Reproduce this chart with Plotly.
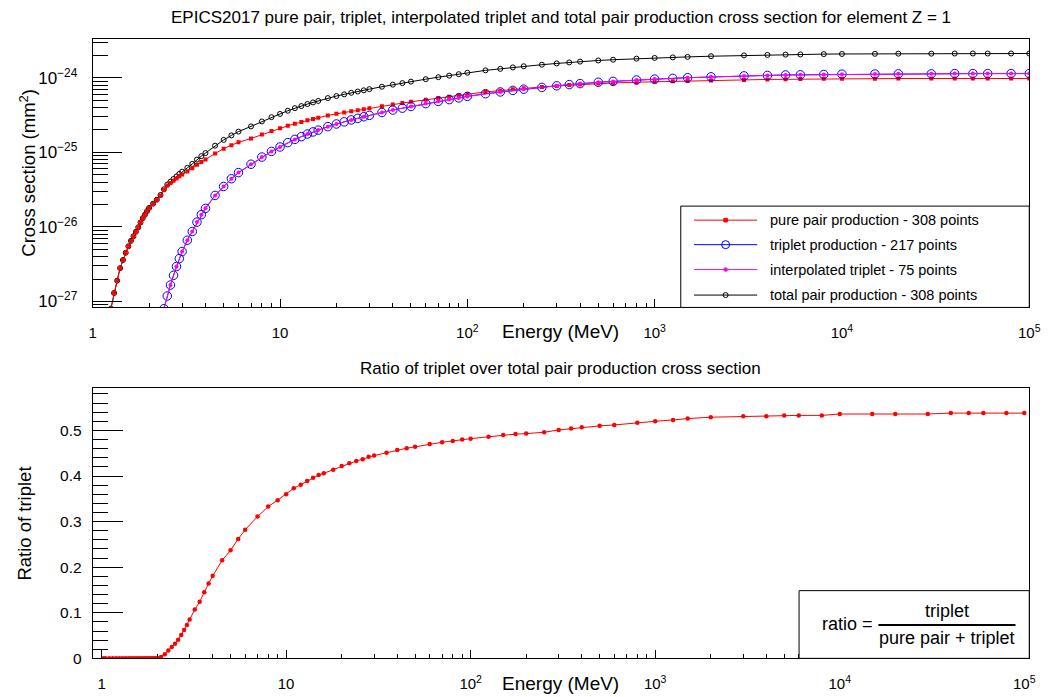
import plotly.graph_objects as go

# ---------------- data (cross sections in units of 1e-24 mm^2) ----------------
XS_UNIT = 1e-24

E_GRID = [1.1, 1.2, 1.25, 1.3, 1.35, 1.4, 1.45, 1.5, 1.55, 1.6, 1.65, 1.7, 1.75, 1.8,
          1.85, 1.9, 1.95, 2.0,
          2.1, 2.2, 2.3, 2.4, 2.5, 2.6, 2.7, 2.8, 2.9, 3.0, 3.2, 3.4, 3.6, 3.8, 4.0,
          4.5, 5.0, 5.5, 6.0, 7.0, 8.0, 9.0, 10, 11, 12, 13, 14, 15, 16, 18, 20, 22,
          24, 26, 28, 30, 35, 40, 45, 50, 60, 70, 80, 90, 100, 125, 150, 175, 200,
          250, 300, 350, 400, 500, 600, 800, 1000, 1250, 1500, 2000, 3000, 4000,
          5000, 6000, 8000, 1e4, 1.5e4, 2e4, 3e4, 4e4, 5e4, 6e4, 8e4, 1e5]

PAIR_XS = [0.00005, 0.0004, 0.0008, 0.0013, 0.0019, 0.0028, 0.0036, 0.0045, 0.0055,
           0.0065, 0.0075, 0.0086, 0.0099, 0.0115, 0.0131, 0.0146, 0.0163, 0.0180,
           0.02044, 0.02299, 0.02634, 0.0312, 0.03582, 0.03884, 0.04176, 0.04456,
           0.04774, 0.05033, 0.05537, 0.06132, 0.0684, 0.0744, 0.08026, 0.09656,
           0.1122, 0.1247, 0.1364, 0.1536, 0.1734, 0.1939, 0.2099, 0.2270, 0.2426,
           0.2554, 0.2688, 0.2799, 0.2911, 0.3135, 0.3295, 0.3432, 0.3572, 0.3688,
           0.3794, 0.3913, 0.4172, 0.4398, 0.4582, 0.4770, 0.5088, 0.5365, 0.5596,
           0.5824, 0.6061, 0.6476, 0.6732, 0.7010, 0.7250, 0.7560, 0.7784, 0.7985,
           0.8135, 0.8379, 0.8540, 0.8742, 0.8880, 0.8968, 0.9053, 0.9185, 0.9380,
           0.9521, 0.9574, 0.9620, 0.9714, 0.9698, 0.9744, 0.9790, 0.9790, 0.9794,
           0.9794, 0.9794, 0.9794, 0.9794]

TOTAL_XS = [0.00005, 0.0004, 0.0008, 0.0013, 0.0019, 0.0028, 0.0036, 0.0045, 0.0055,
            0.0065, 0.0075, 0.0086, 0.0099, 0.0115, 0.0131, 0.0146, 0.0163, 0.0180,
            0.0205, 0.0232, 0.0268, 0.0320, 0.0370, 0.0405, 0.0440, 0.0475, 0.0515,
            0.0550, 0.0620, 0.0700, 0.0800, 0.0890, 0.0980, 0.1230, 0.1470, 0.1690,
            0.1900, 0.2230, 0.2600, 0.2970, 0.328, 0.362, 0.392, 0.418, 0.445, 0.468,
            0.490, 0.535, 0.570, 0.600, 0.630, 0.655, 0.680, 0.705, 0.760, 0.810,
            0.850, 0.890, 0.960, 1.020, 1.070, 1.120, 1.170, 1.260, 1.320, 1.380,
            1.430, 1.500, 1.560, 1.610, 1.650, 1.710, 1.750, 1.810, 1.850, 1.880,
            1.910, 1.950, 2.000, 2.030, 2.050, 2.060, 2.080, 2.090, 2.100, 2.110,
            2.110, 2.120, 2.120, 2.120, 2.120, 2.120]

E_TRIPLET = [2.1, 2.2, 2.3, 2.4, 2.5, 2.6, 2.7, 2.8, 2.9, 3.0, 3.2, 3.4, 3.6, 3.8, 4.0,
             4.5, 5.0, 5.5, 6.0, 7.0, 8.0, 9.0, 10, 11, 12, 13, 14, 15, 16, 18, 20, 22,
             24, 26, 28, 30, 35, 40, 45, 50, 60, 70, 80, 90, 100, 125, 150, 175, 200,
             250, 300, 350, 400, 500, 600, 800, 1000, 1250, 1500, 2000, 3000, 4000,
             5000, 6000, 8000, 1e4, 1.5e4, 2e4, 3e4, 4e4, 5e4, 6e4, 8e4, 1e5]

TRIPLET_XS = [0.0000615, 0.000209, 0.000456, 0.0008, 0.001184, 0.00166, 0.002244,
              0.002945, 0.00376, 0.004675, 0.006634, 0.00868, 0.0116, 0.0146, 0.01774,
              0.02645, 0.03484, 0.04428, 0.05358, 0.06935, 0.08658, 0.1031, 0.1181,
              0.1350, 0.1494, 0.1626, 0.1762, 0.1881, 0.1989, 0.2215, 0.2405, 0.2568,
              0.2728, 0.2862, 0.3006, 0.3137, 0.3428, 0.3702, 0.3919, 0.4130, 0.4512,
              0.4835, 0.5104, 0.5376, 0.5639, 0.6124, 0.6468, 0.6790, 0.7050, 0.7440,
              0.7816, 0.8114, 0.8366, 0.8721, 0.8960, 0.9358, 0.9620, 0.9832, 1.0047,
              1.0316, 1.0620, 1.0779, 1.0927, 1.0980, 1.1086, 1.1202, 1.1256, 1.1310,
              1.1310, 1.1406, 1.1406, 1.1406, 1.1406, 1.1406]

E_INTERP = [2.4, 2.6, 2.8, 3.0, 3.2, 3.4, 3.6, 3.8, 4.0, 4.5, 5.0, 5.5, 6.0, 7, 8, 9,
            10, 12, 14, 16, 18, 20, 24, 28, 35, 40, 50, 60, 70, 80, 90, 100, 150, 200,
            300, 400, 500, 600, 800, 1000, 1500, 2000, 3000, 4000, 5000, 6000, 8000,
            1e4, 1.5e4, 2e4, 3e4, 4e4, 5e4, 6e4, 8e4, 1e5]

INTERP_XS = [0.0008, 0.00166, 0.002945, 0.004675, 0.006634, 0.00868, 0.0116, 0.0146,
             0.01774, 0.02645, 0.03484, 0.04428, 0.05358, 0.06935, 0.08658, 0.1031,
             0.1181, 0.1494, 0.1762, 0.1989, 0.2215, 0.2405, 0.2728, 0.3006, 0.3428,
             0.3702, 0.4130, 0.4512, 0.4835, 0.5104, 0.5376, 0.5639, 0.6468, 0.7050,
             0.7816, 0.8366, 0.8721, 0.8960, 0.9358, 0.9620, 1.0047, 1.0316, 1.0620,
             1.0779, 1.0927, 1.0980, 1.1086, 1.1202, 1.1256, 1.1310, 1.1310, 1.1406,
             1.1406, 1.1406, 1.1406, 1.1406]

E_RATIO = [1.022, 1.05, 1.1, 1.15, 1.2, 1.25, 1.3, 1.35, 1.4, 1.45, 1.5, 1.55, 1.6,
           1.65, 1.7, 1.75, 1.8, 1.85, 1.9, 1.95, 2.0, 2.044,
           2.1, 2.2, 2.3, 2.4, 2.5, 2.6, 2.7, 2.8, 2.9, 3.0, 3.2, 3.4, 3.6, 3.8, 4.0,
           4.5, 5.0, 5.5, 6.0, 7.0, 8.0, 9.0, 10, 11, 12, 13, 14, 15, 16, 18, 20, 22,
           24, 26, 28, 30, 35, 40, 45, 50, 60, 70, 80, 90, 100, 125, 150, 175, 200,
           250, 300, 350, 400, 500, 600, 800, 1000, 1250, 1500, 2000, 3000, 4000,
           5000, 6000, 8000, 1e4, 1.5e4, 2e4, 3e4, 4e4, 5e4, 6e4, 8e4, 1e5]

RATIO = [0, 0, 0, 0, 0, 0, 0, 0, 0, 0, 0, 0, 0, 0, 0, 0, 0, 0, 0, 0, 0, 0,
         0.003, 0.009, 0.017, 0.025, 0.032, 0.041, 0.051, 0.062, 0.073, 0.085,
         0.107, 0.124, 0.145, 0.164, 0.181, 0.215, 0.237, 0.262, 0.282, 0.311,
         0.333, 0.347, 0.360, 0.373, 0.381, 0.389, 0.396, 0.402, 0.406, 0.414,
         0.422, 0.428, 0.433, 0.437, 0.442, 0.445, 0.451, 0.457, 0.461, 0.464,
         0.470, 0.474, 0.477, 0.480, 0.482, 0.486, 0.490, 0.492, 0.493, 0.496,
         0.501, 0.504, 0.507, 0.510, 0.512, 0.517, 0.520, 0.523, 0.526, 0.529,
         0.531, 0.531, 0.533, 0.533, 0.533, 0.536, 0.536, 0.536, 0.536, 0.538,
         0.538, 0.538, 0.538, 0.538]

assert len(E_GRID) == len(PAIR_XS) == len(TOTAL_XS)
assert len(E_TRIPLET) == len(TRIPLET_XS)
assert len(E_INTERP) == len(INTERP_XS)
assert len(E_RATIO) == len(RATIO)

X_TICKS = [1, 10, 100, 1000, 10000, 100000]
X_TICKTEXT = ["1", "10", "10<sup>2</sup>", "10<sup>3</sup>", "10<sup>4</sup>", "10<sup>5</sup>"]
Y_TICKS = [1e-27, 1e-26, 1e-25, 1e-24]
Y_TICKTEXT = ["10<sup>\u221227</sup>", "10<sup>\u221226</sup>", "10<sup>\u221225</sup>",
              "10<sup>\u221224</sup>"]
R_TICKS = [0, 0.1, 0.2, 0.3, 0.4, 0.5]
R_TICKTEXT = ["0", "0.1", "0.2", "0.3", "0.4", "0.5"]

TITLE_TOP = ("EPICS2017 pure pair, triplet, interpolated triplet and total pair "
             "production cross section for element Z = 1")
TITLE_BOTTOM = "Ratio of triplet over total pair production cross section"
LEGEND_LABELS = ["pure pair production - 308 points", "triplet production - 217 points",
                 "interpolated triplet - 75 points", "total pair production - 308 points"]

# ---------------- layout helpers ----------------
W, H = 1058, 697
FONT = "Liberation Sans, Arial, Helvetica, sans-serif"


def px(x):
    return x / W


def py(y):
    return 1 - y / H


def scaled(vals):
    return [v * XS_UNIT for v in vals]


fig = go.Figure()

fig.add_trace(go.Scatter(
    x=E_GRID, y=scaled(TOTAL_XS), mode="lines+markers", showlegend=False,
    line=dict(color="black", width=1),
    marker=dict(symbol="circle-open", size=5, color="black", line=dict(width=1)),
    xaxis="x", yaxis="y"))
fig.add_trace(go.Scatter(
    x=E_GRID, y=scaled(PAIR_XS), mode="lines+markers", showlegend=False,
    line=dict(color="#ff0000", width=1),
    marker=dict(symbol="square", size=4, color="#ff0000"),
    xaxis="x", yaxis="y"))
fig.add_trace(go.Scatter(
    x=E_TRIPLET, y=scaled(TRIPLET_XS), mode="lines+markers", showlegend=False,
    line=dict(color="#0000ff", width=1),
    marker=dict(symbol="circle-open", size=8.5, color="#0000ff", line=dict(width=1)),
    xaxis="x", yaxis="y"))
fig.add_trace(go.Scatter(
    x=E_INTERP, y=scaled(INTERP_XS), mode="lines+markers", showlegend=False,
    line=dict(color="#ff00ff", width=1),
    marker=dict(symbol="circle", size=4, color="#ff00ff"),
    xaxis="x", yaxis="y"))
fig.add_trace(go.Scatter(
    x=E_RATIO, y=RATIO, mode="lines+markers", showlegend=False,
    line=dict(color="#ff0000", width=1),
    marker=dict(symbol="circle", size=4.5, color="#ff0000"),
    xaxis="x2", yaxis="y2"))

minor_x = [m * 10 ** n for n in range(-1, 5) for m in range(2, 10)]
minor_y = [m * 10.0 ** n for n in range(-28, -23) for m in range(2, 10)]
minor_r = [k / 50 for k in range(0, 30) if k % 5 != 0]

common_axis = dict(showline=True, linecolor="black", linewidth=1, mirror=True,
                   showgrid=False, zeroline=False, ticks="inside", tickcolor="black",
                   tickwidth=1)

xa = dict(common_axis, type="log", tickmode="array", tickvals=X_TICKS, ticktext=X_TICKTEXT,
          ticklen=8, ticklabelstandoff=12,
          tickfont=dict(family=FONT, size=15, color="black"),
          minor=dict(tickmode="array", tickvals=minor_x, ticks="inside", ticklen=4,
                     tickcolor="black", tickwidth=1, showgrid=False),
          domain=[px(90), px(1040)])

fig.update_layout(
    width=W, height=H, autosize=False,
    margin=dict(l=0, r=0, t=0, b=0),
    paper_bgcolor="white", plot_bgcolor="white",
    xaxis=dict(xa, anchor="y", range=[0, 5]),
    yaxis=dict(common_axis, type="log", anchor="x", range=[-27.08, -23.473],
               tickmode="array", tickvals=Y_TICKS, ticktext=Y_TICKTEXT,
               ticklen=29, ticklabelstandoff=11,
               tickfont=dict(family=FONT, size=17, color="black"),
               minor=dict(tickmode="array", tickvals=minor_y, ticks="inside", ticklen=15,
                          tickcolor="black", tickwidth=1, showgrid=False),
               domain=[py(311), py(39)]),
    xaxis2=dict(xa, anchor="y2", range=[-0.048, 5.027]),
    yaxis2=dict(common_axis, anchor="x2", range=[0, 0.592],
                tickmode="array", tickvals=R_TICKS, ticktext=R_TICKTEXT,
                ticklen=30, ticklabelstandoff=7,
                tickfont=dict(family=FONT, size=15.5, color="black"),
                minor=dict(tickmode="array", tickvals=minor_r, ticks="inside", ticklen=15,
                           tickcolor="black", tickwidth=1, showgrid=False),
                domain=[py(666), py(393)]),
)

annotations = []
shapes = []


def text(x, y, s, size, xanchor="center", angle=0):
    annotations.append(dict(x=px(x), y=py(y), xref="paper", yref="paper", text=s,
                            showarrow=False, xanchor=xanchor, yanchor="middle",
                            textangle=angle, borderpad=0,
                            font=dict(family=FONT, size=size, color="black")))


# titles and axis titles
text(565, 18, TITLE_TOP, 17)
text(565, 373, TITLE_BOTTOM, 17)
text(564, 335, "Energy (MeV)", 19)
text(564, 691, "Energy (MeV)", 19)
text(24, 175, "Cross section (mm<sup>2</sup>)", 18.5, angle=-90)
text(21, 530, "Ratio of triplet", 18.5, angle=-90)

# legend box
shapes.append(dict(type="rect", xref="paper", yref="paper", x0=px(686.5), x1=px(1040),
                   y0=py(311), y1=py(208.5), line=dict(color="black", width=1),
                   fillcolor="white", layer="above"))
legend_rows = [222.7, 247.5, 272.7, 298.5]
legend_colors = ["#ff0000", "#0000ff", "#ff00ff", "black"]
for row, col, lab in zip(legend_rows, legend_colors, LEGEND_LABELS):
    shapes.append(dict(type="line", xref="paper", yref="paper", x0=px(700), x1=px(764),
                       y0=py(row), y1=py(row), line=dict(color=col, width=1), layer="above"))
    text(776, row, lab, 14.5, xanchor="left")

mx = px(732)


def pix_shape(kind, row, r, line_col, fill):
    shapes.append(dict(type=kind, xref="paper", yref="paper", xsizemode="pixel",
                       ysizemode="pixel", xanchor=mx, yanchor=py(row),
                       x0=-r, x1=r, y0=-r, y1=r, line=dict(color=line_col, width=1),
                       fillcolor=fill, layer="above"))


pix_shape("rect", legend_rows[0], 1.8, "#ff0000", "#ff0000")
pix_shape("circle", legend_rows[1], 4.0, "#0000ff", "rgba(0,0,0,0)")
pix_shape("circle", legend_rows[2], 1.8, "#ff00ff", "#ff00ff")
pix_shape("circle", legend_rows[3], 2.5, "black", "rgba(0,0,0,0)")

# formula box
shapes.append(dict(type="rect", xref="paper", yref="paper", x0=px(806.5), x1=px(1040),
                   y0=py(666), y1=py(597.5), line=dict(color="black", width=1),
                   fillcolor="white", layer="above"))
text(856, 631, "ratio =", 18)
text(956.5, 618, "triplet", 18)
text(956.5, 645, "pure pair + triplet", 18)
shapes.append(dict(type="line", xref="paper", yref="paper", x0=px(887), x1=px(1026),
                   y0=py(632.3), y1=py(632.3), line=dict(color="black", width=2),
                   layer="above"))

fig.update_layout(annotations=annotations, shapes=shapes)

fig.write_html("out.html")
